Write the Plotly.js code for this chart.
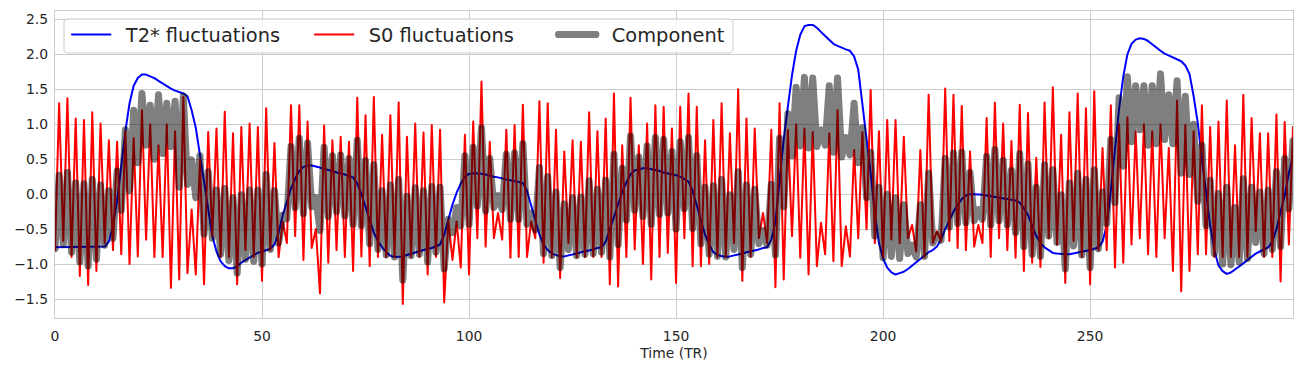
<!DOCTYPE html>
<html><head><meta charset="utf-8">
<script src="https://cdn.plot.ly/plotly-3.0.1.min.js"></script>
<style>
html,body{margin:0;padding:0;background:#fff}
#chart{width:1303px;height:371px}
path.js-line{stroke-linejoin:round;stroke-linecap:round}
.legend path.js-line{transform-box:fill-box;transform-origin:left center;transform:scaleX(0.792)}
</style>
</head><body><div id="chart"></div><script>
const t2star = [-0.76,-0.76,-0.76,-0.76,-0.76,-0.76,-0.76,-0.76,-0.76,-0.76,
 -0.76,-0.76,-0.75,-0.68,-0.45,-0.1,0.4,0.9,1.3,1.55,
 1.66,1.71,1.71,1.69,1.66,1.62,1.58,1.54,1.51,1.48,
 1.46,1.44,1.4,1.2,0.95,0.55,0.15,-0.25,-0.6,-0.82,
 -0.96,-1.03,-1.06,-1.06,-1.03,-0.98,-0.94,-0.9,-0.87,-0.84,
 -0.82,-0.8,-0.78,-0.72,-0.55,-0.3,-0.1,0.08,0.22,0.33,
 0.39,0.41,0.41,0.4,0.38,0.36,0.35,0.33,0.31,0.3,
 0.28,0.26,0.24,0.15,0,-0.18,-0.38,-0.55,-0.67,-0.76,
 -0.83,-0.88,-0.9,-0.9,-0.89,-0.87,-0.85,-0.83,-0.81,-0.79,
 -0.78,-0.77,-0.75,-0.72,-0.58,-0.35,-0.15,0.02,0.15,0.25,
 0.29,0.3,0.3,0.29,0.28,0.26,0.25,0.24,0.22,0.21,
 0.2,0.19,0.18,0.16,0.05,-0.15,-0.38,-0.58,-0.72,-0.8,
 -0.85,-0.87,-0.89,-0.89,-0.88,-0.86,-0.85,-0.83,-0.82,-0.8,
 -0.79,-0.77,-0.76,-0.68,-0.5,-0.3,-0.12,0.03,0.17,0.28,
 0.34,0.36,0.37,0.37,0.36,0.35,0.33,0.31,0.3,0.28,
 0.27,0.25,0.22,0.18,0.05,-0.15,-0.38,-0.58,-0.72,-0.83,
 -0.87,-0.89,-0.9,-0.89,-0.88,-0.86,-0.85,-0.83,-0.82,-0.8,
 -0.79,-0.77,-0.76,-0.65,-0.4,0.2,0.78,1.25,1.7,2.05,
 2.28,2.4,2.42,2.42,2.38,2.32,2.26,2.2,2.15,2.12,
 2.09,2.07,2.05,1.97,1.78,1.3,0.85,0.3,-0.28,-0.7,
 -0.92,-1.05,-1.12,-1.15,-1.13,-1.11,-1.07,-1.02,-0.97,-0.92,
 -0.87,-0.83,-0.8,-0.75,-0.65,-0.5,-0.38,-0.25,-0.15,-0.07,
 -0.02,0,0,0,-0.01,-0.02,-0.03,-0.04,-0.05,-0.06,
 -0.07,-0.08,-0.09,-0.12,-0.2,-0.3,-0.45,-0.6,-0.7,-0.76,
 -0.8,-0.84,-0.85,-0.86,-0.86,-0.86,-0.85,-0.84,-0.83,-0.81,
 -0.8,-0.78,-0.76,-0.68,-0.45,0.05,0.65,1.22,1.68,2.0,
 2.15,2.21,2.23,2.22,2.19,2.14,2.1,2.05,2.01,1.98,
 1.95,1.93,1.9,1.84,1.72,1.4,1.02,0.5,0.05,-0.45,
 -0.8,-1.02,-1.1,-1.14,-1.12,-1.08,-1.04,-0.99,-0.94,-0.89,
 -0.85,-0.82,-0.79,-0.76,-0.68,-0.5,-0.25,-0.02,0.3,0.55];

const s0 = [-0.8,1.3,-0.67,1.37,-0.9,1.08,-1.17,1.06,-1.3,1.17,
 -1.1,1.01,-0.7,0.77,-0.8,0.75,-0.86,0.9,-1.0,0.8,
 -0.89,1.2,-0.65,1.0,-0.9,0.7,-0.9,1.0,-1.34,0.9,
 -1.22,1.39,-1.13,-0.22,-1.15,0.5,-1.29,0.89,-0.6,0.94,
 -0.9,1.18,-0.9,0.87,-1.29,0.96,-0.8,1.01,-0.9,0.96,
 -1.24,1.23,-0.8,0.73,-0.9,-0.39,-0.7,1.27,-0.6,1.27,
 -0.94,1.04,-0.77,-0.5,-1.42,0.98,-0.98,0.77,-0.8,0.82,
 -0.9,0.75,-1.1,1.38,-0.89,1.13,-1.03,1.39,-0.9,0.85,
 -0.9,1.13,-0.9,1.31,-1.57,0.82,-0.9,1.01,-0.9,0.88,
 -1.15,0.99,-0.9,0.92,-1.55,-0.37,-0.94,-0.39,-1.05,0.85,
 -1.15,1.04,-0.63,1.61,-0.75,0.75,-0.63,-0.27,-0.65,0.92,
 -0.91,0.99,-0.9,1.28,-0.9,-0.39,-0.63,1.33,-0.98,1.3,
 -0.9,0.92,-1.2,0.61,-0.7,0.77,-0.9,0.75,-0.9,1.17,
 -0.9,0.9,-0.9,1.08,-1.29,1.44,-1.32,0.7,-0.9,1.38,
 -0.79,0.7,-1.0,1.01,-1.22,1.27,-0.9,1.25,-0.84,0.94,
 -1.27,1.25,-0.63,1.44,-1.03,1.25,-1.03,0.77,-1.0,1.06,
 -0.9,1.3,-0.9,0.87,-0.7,1.5,-1.24,1.08,-0.9,0.94,
 -0.63,-0.27,-0.7,0.92,-1.33,1.3,-1.22,0.92,-0.6,1.0,
 -0.91,0.94,-1.15,0.89,-1.03,-0.41,-0.86,0.87,-0.96,1.2,
 -1.03,-0.46,-0.89,0.63,-0.63,0.89,-0.5,1.49,-0.7,0.9,
 -0.9,1.06,-0.65,1.06,-0.7,0.82,-0.63,-0.44,-0.82,0.63,
 -0.9,1.42,-0.7,-0.53,-0.67,1.51,-0.67,1.42,-0.77,1.26,
 -0.8,0.61,-0.75,-0.44,-0.7,1.09,-0.9,1.31,-0.63,1.01,
 -0.8,0.76,-0.91,1.28,-1.1,1.16,-0.98,0.52,-1.04,1.31,
 -0.63,1.53,-0.72,0.85,-1.27,1.17,-0.67,1.44,-0.9,1.23,
 -1.29,1.47,-0.8,0.66,-0.8,1.27,-1.05,1.0,-0.98,1.1,
 -0.72,0.9,-0.63,1.0,-0.86,0.9,-0.9,1.0,-0.63,0.66,
 -1.1,1.34,-1.39,0.99,-1.1,0.9,-0.86,1.27,-0.86,0.96,
 -0.9,1.04,-0.9,1.34,-0.9,0.7,-0.9,1.42,-0.9,1.09,
 -0.53,0.87,-0.9,0.87,-0.9,1.14,-1.25,1.03,-0.72,0.96];

const component = [-0.78,0.27,-0.72,0.31,-0.83,0.16,-0.97,0.15,-1.03,0.21,
 -0.93,0.13,-0.73,0.05,-0.63,0.33,-0.23,0.92,0.05,1.2,
 0.45,1.44,0.7,1.27,0.5,1.42,0.58,1.3,0.68,1.33,
 0.1,1.4,0.14,0.49,-0.05,0.55,-0.57,0.32,-0.63,0.06,
 -0.86,0.08,-0.95,-0.05,-1.13,-0.01,-0.93,0.06,-0.96,0.06,
 -1.0,0.28,-0.79,0.05,-0.7,-0.3,-0.35,0.68,-0.19,0.8,
 -0.28,0.73,-0.18,-0.05,-0.52,0.67,-0.32,0.55,-0.25,0.56,
 -0.31,0.51,-0.43,0.77,-0.45,0.48,-0.71,0.42,-0.79,0.05,
 -0.87,0.13,-0.9,0.21,-1.23,-0.03,-0.88,0.09,-0.86,0.05,
 -0.97,0.11,-0.83,0.1,-1.07,-0.36,-0.55,-0.19,-0.45,0.55,
 -0.43,0.67,-0.17,0.95,-0.24,0.51,-0.19,-0.02,-0.22,0.57,
 -0.36,0.59,-0.36,0.72,-0.43,-0.27,-0.51,0.38,-0.85,0.25,
 -0.88,0.03,-1.05,-0.14,-0.79,-0.05,-0.88,-0.04,-0.86,0.19,
 -0.85,0.07,-0.83,0.2,-0.9,0.57,-0.72,0.37,-0.37,0.83,
 -0.23,0.53,-0.32,0.69,-0.43,0.81,-0.29,0.78,-0.27,0.61,
 -0.5,0.75,-0.21,0.81,-0.49,0.55,-0.71,0.1,-0.86,0.12,
 -0.89,0.21,-0.9,-0.01,-0.79,0.32,-1.05,0.13,-0.86,0.07,
 -0.71,-0.52,-0.73,0.14,-0.87,0.8,-0.18,1.15,0.55,1.53,
 0.69,1.67,0.66,1.66,0.68,0.92,0.7,1.55,0.6,1.66,
 0.53,0.81,0.56,1.3,0.45,0.95,-0.05,0.6,-0.6,0.1,
 -0.91,0.0,-0.89,-0.05,-0.92,-0.15,-0.85,-0.73,-0.9,-0.15,
 -0.89,0.3,-0.7,-0.58,-0.66,0.51,-0.47,0.59,-0.42,0.6,
 -0.41,0.31,-0.38,-0.22,-0.36,0.54,-0.44,0.64,-0.38,0.48,
 -0.44,0.34,-0.55,0.58,-0.75,0.43,-0.86,0.1,-0.89,0.42,
 -0.6,0.35,-0.69,-0.01,-1.07,0.16,-0.74,0.3,-0.87,0.21,
 -1.05,0.35,-0.78,0.03,-0.42,0.78,-0.12,1.38,0.4,1.68,
 0.75,1.55,0.92,1.55,0.7,1.55,0.72,1.72,0.78,1.42,
 0.72,1.62,0.3,1.4,0.28,1.0,-0.1,0.7,-0.45,0.2,
 -0.85,0.01,-1.0,0.1,-1.01,-0.19,-0.97,0.22,-0.92,0.1,
 -0.69,0.03,-0.85,0.06,-0.79,0.32,-0.75,0.51,-0.21,0.76];

const timeTR = t2star.map((_, i) => i);
const xTicks = [0, 50, 100, 150, 200, 250];
const yTicks = [-1.5, -1.0, -0.5, 0.0, 0.5, 1.0, 1.5, 2.0, 2.5];
const seriesNames = ['T2* fluctuations', 'S0 fluctuations', 'Component'];

const traces = [
  {x: timeTR, y: t2star, mode: 'lines', name: seriesNames[0], line: {color: '#0000ff', width: 2}},
  {x: timeTR, y: s0, mode: 'lines', name: seriesNames[1], line: {color: '#ff0000', width: 2}},
  {x: timeTR, y: component, mode: 'lines', name: seriesNames[2], line: {color: 'rgba(0,0,0,0.5)', width: 7}}
];

const axisCommon = {
  showgrid: true, gridcolor: '#cccccc', gridwidth: 1,
  showline: true, mirror: true, linecolor: '#cccccc', linewidth: 1.25,
  zeroline: false, ticks: '', tickfont: {size: 13.9, color: '#262626'}
};

// legend frame (rounded box, semi-opaque white like matplotlib's)
const L = 0.00727, R = 0.54766, T = 0.97394, B = 0.86319, dx = 0.00323, dy = 0.01303;
const framePath = `M${L+dx},${T} L${R-dx},${T} Q${R},${T} ${R},${T-dy} L${R},${B+dy} Q${R},${B} ${R-dx},${B} ` +
                  `L${L+dx},${B} Q${L},${B} ${L},${B+dy} L${L},${T-dy} Q${L},${T} ${L+dx},${T} Z`;

const layout = {
  width: 1303, height: 371,
  margin: {l: 55, r: 10, t: 11, b: 53},
  paper_bgcolor: '#ffffff', plot_bgcolor: '#ffffff',
  font: {family: 'DejaVu Sans', size: 13.9, color: '#262626'},
  showlegend: true,
  legend: {
    orientation: 'h', x: 0.00953, xanchor: 'left', y: 0.9853, yanchor: 'top',
    bgcolor: 'rgba(0,0,0,0)', borderwidth: 0,
    font: {size: 19.4, color: '#262626'},
    entrywidth: 179, entrywidthmode: 'pixels', itemwidth: 49
  },
  shapes: [{
    type: 'path', xref: 'paper', yref: 'paper', layer: 'above', path: framePath,
    fillcolor: 'rgba(255,255,255,0.8)', line: {color: '#cccccc', width: 1}
  }],
  xaxis: Object.assign({}, axisCommon, {
    range: [0, 299], tickvals: xTicks, ticklabelstandoff: 5,
    title: {text: 'Time (TR)', font: {size: 13.9, color: '#262626'}, standoff: 5}
  }),
  yaxis: Object.assign({}, axisCommon, {
    range: [-1.771, 2.619], tickvals: yTicks, tickformat: '.1f', ticklabelstandoff: 3
  })
};

Plotly.newPlot('chart', traces, layout, {displayModeBar: false, staticPlot: true});
</script></body></html>
